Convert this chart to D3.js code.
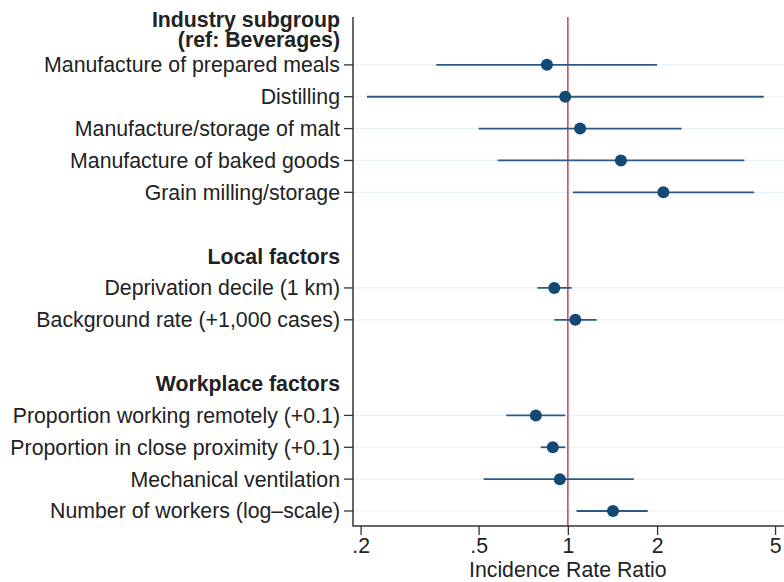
<!DOCTYPE html>
<html>
<head>
<meta charset="utf-8">
<script src="https://cdn.jsdelivr.net/npm/d3@7"></script>
<style>
  body { margin: 0; background: #fff; }
  svg { display: block; font-family: "Liberation Sans", Arial, Helvetica, sans-serif; }
</style>
</head>
<body>
<svg id="chart" width="784" height="582"></svg>
<script>
// rows, top to bottom; headers have no estimate, "" is a spacer row
const rowLabels = [
    "Industry subgroup|(ref: Beverages)",
    "Manufacture of prepared meals",
    "Distilling",
    "Manufacture/storage of malt",
    "Manufacture of baked goods",
    "Grain milling/storage",
    "",
    "Local factors",
    "Deprivation decile (1 km)",
    "Background rate (+1,000 cases)",
    "",
    "Workplace factors",
    "Proportion working remotely (+0.1)",
    "Proportion in close proximity (+0.1)",
    "Mechanical ventilation",
    "Number of workers (log\u2013scale)"
];
const headerRows = [0, 7, 11];

// estimates (null for headers / spacers)
const irr   = [null, 0.85, 0.98, 1.10, 1.51, 2.10, null, null, 0.90, 1.06, null, null, 0.78, 0.89, 0.94, 1.42];
const ciLow = [null, 0.36, 0.21, 0.50, 0.58, 1.04, null, null, 0.79, 0.90, null, null, 0.62, 0.81, 0.52, 1.07];
const ciHigh= [null, 2.00, 4.58, 2.42, 3.94, 4.25, null, null, 1.03, 1.25, null, null, 0.98, 0.98, 1.67, 1.86];

const xTicks = [0.2, 0.5, 1, 2, 5];
const xTickLabels = [".2", ".5", "1", "2", "5"];

const svg = d3.select('#chart');
const margin = {left: 353, top: 17, right: 0, bottom: 56};
const W = 784, H = 582;
const fontSize = 21.3;

const x = d3.scaleLog()
    .domain([0.1885, 5.36])
    .range([margin.left, W - margin.right]);

const y = d3.scalePoint()
    .domain(d3.range(rowLabels.length))
    .range([33, 511]);

const plotBottom = H - margin.bottom;

// grid lines at each item row
const itemRows = d3.range(rowLabels.length).filter(i => irr[i] !== null);

svg.append('g')
    .selectAll('line')
    .data(itemRows)
    .join('line')
    .attr('x1', margin.left)
    .attr('x2', W)
    .attr('y1', i => y(i))
    .attr('y2', i => y(i))
    .attr('stroke', '#e8f1f3')
    .attr('stroke-width', 1.2);

// reference line at IRR = 1
svg.append('line')
    .attr('x1', x(1)).attr('x2', x(1))
    .attr('y1', margin.top).attr('y2', plotBottom)
    .attr('stroke', '#c8505f')
    .attr('stroke-width', 1.6);

// confidence intervals
svg.append('g')
    .selectAll('line')
    .data(itemRows)
    .join('line')
    .attr('x1', i => x(ciLow[i]))
    .attr('x2', i => x(ciHigh[i]))
    .attr('y1', i => y(i))
    .attr('y2', i => y(i))
    .attr('stroke', '#2b5b84')
    .attr('stroke-width', 1.8);

// point estimates
svg.append('g')
    .selectAll('circle')
    .data(itemRows)
    .join('circle')
    .attr('cx', i => x(irr[i]))
    .attr('cy', i => y(i))
    .attr('r', 6)
    .attr('fill', '#134a75');

// y axis
svg.append('line')
    .attr('x1', margin.left).attr('x2', margin.left)
    .attr('y1', margin.top).attr('y2', plotBottom + 0.75)
    .attr('stroke', '#333')
    .attr('stroke-width', 1.5);

svg.append('g')
    .selectAll('line')
    .data(itemRows)
    .join('line')
    .attr('x1', margin.left - 9)
    .attr('x2', margin.left)
    .attr('y1', i => y(i))
    .attr('y2', i => y(i))
    .attr('stroke', '#333')
    .attr('stroke-width', 1.3);

// row labels
const labels = svg.append('g')
    .attr('font-size', fontSize)
    .attr('fill', '#222')
    .attr('text-anchor', 'end');

rowLabels.forEach((lab, i) => {
    if (!lab) return;
    const isHeader = headerRows.includes(i);
    const lines = lab.split('|');
    const lh = 20;
    // two-line header sits a little higher than its row
    const cy = lines.length > 1 ? y(i) - 3.5 : y(i);
    lines.forEach((ln, k) => {
        labels.append('text')
            .attr('x', margin.left - 13)
            .attr('y', cy + (k - (lines.length - 1) / 2) * lh)
            .attr('dy', '0.35em')
            .attr('font-weight', isHeader ? 'bold' : 'normal')
            .text(ln);
    });
});

// x axis
const xAxis = svg.append('g')
    .attr('transform', `translate(0, ${plotBottom})`)
    .call(d3.axisBottom(x)
        .tickValues(xTicks)
        .tickFormat((d, k) => xTickLabels[k])
        .tickSize(9)
        .tickPadding(3));

xAxis.select('.domain')
    .attr('d', `M${margin.left},0H${W}`)
    .attr('stroke', '#333')
    .attr('stroke-width', 1.5);
xAxis.selectAll('.tick line').attr('stroke', '#333').attr('stroke-width', 1.3);
xAxis.selectAll('.tick text')
    .attr('font-size', fontSize)
    .attr('font-family', '"Liberation Sans", Arial, sans-serif')
    .attr('fill', '#222');

svg.append('text')
    .attr('x', x(1))
    .attr('y', 577)
    .attr('text-anchor', 'middle')
    .attr('font-size', fontSize)
    .attr('fill', '#222')
    .text('Incidence Rate Ratio');
</script>
</body>
</html>
